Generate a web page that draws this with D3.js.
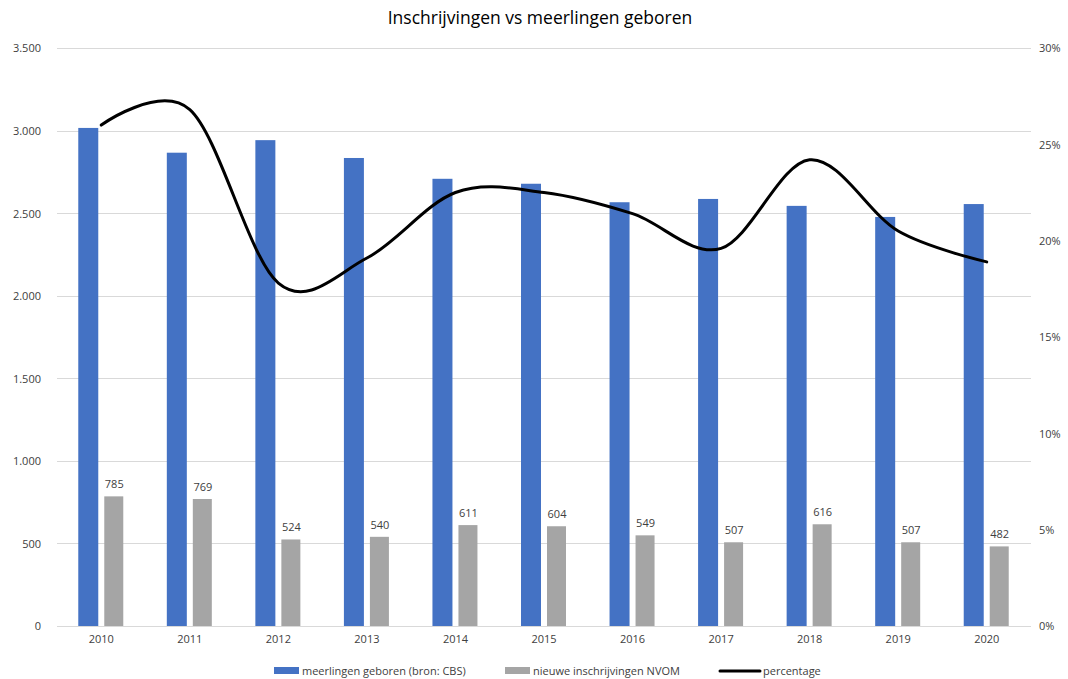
<!DOCTYPE html>
<html>
<head>
<meta charset="utf-8">
<script src="https://cdn.jsdelivr.net/npm/d3@7"></script>
<style>
  body { margin: 0; background: #fff; }
  text { font-family: "Open Sans", "Noto Sans", sans-serif; fill: #404040; }
</style>
</head>
<body>
<div id="chart"></div>
<script>
// chart data
var years = ["2010", "2011", "2012", "2013", "2014", "2015", "2016", "2017", "2018", "2019", "2020"];
var meerlingen = [3016, 2866, 2942, 2834, 2708, 2678, 2566, 2586, 2544, 2477, 2555];
var inschrijvingen = [785, 769, 524, 540, 611, 604, 549, 507, 616, 507, 482];
var percentage = [26.0, 26.8, 17.8, 19.1, 22.5, 22.5, 21.4, 19.6, 24.2, 20.5, 18.9];
var leftTicks = [0, 500, 1000, 1500, 2000, 2500, 3000, 3500];
var rightTicks = [0, 5, 10, 15, 20, 25, 30];

var W = 1068, H = 679,
  margin = { left: 57, right: 37, top: 48, bottom: 53 },
  blue = "#4472c4", grey = "#a5a5a5";

var svg = d3.select("#chart").append("svg")
  .attr("width", W).attr("height", H);

var x = d3.scaleBand()
  .domain(years)
  .range([margin.left, W - margin.right]);

var y = d3.scaleLinear()
  .domain([0, 3500])
  .range([H - margin.bottom, margin.top]);

var y2 = d3.scaleLinear()
  .domain([0, 30])
  .range([H - margin.bottom, margin.top]);

var nf = d3.formatLocale({ decimal: ",", thousands: ".", grouping: [3], currency: ["€", ""] })
  .format(",");

// gridlines
svg.append("g")
  .selectAll("line")
  .data(leftTicks)
  .enter().append("line")
  .attr("x1", margin.left)
  .attr("x2", W - margin.right)
  .attr("y1", function (d) { return Math.round(y(d)) + 0.5; })
  .attr("y2", function (d) { return Math.round(y(d)) + 0.5; })
  .attr("stroke", "#d9d9d9")
  .attr("stroke-width", 1);

// left axis
var leftAxis = svg.append("g")
  .attr("transform", "translate(" + (margin.left - 13) + ",0)")
  .call(d3.axisLeft(y).tickValues(leftTicks).tickSize(0).tickFormat(nf));
leftAxis.select(".domain").remove();
leftAxis.selectAll("text").attr("font-size", 11).attr("dy", "0.35em")
  .style("font-family", "'Open Sans', sans-serif").attr("fill", "#404040");

// right axis
var rightAxis = svg.append("g")
  .attr("transform", "translate(" + (W - margin.right + 5) + ",0)")
  .call(d3.axisRight(y2).tickValues(rightTicks).tickSize(0)
    .tickFormat(function (d) { return d + "%"; }));
rightAxis.select(".domain").remove();
rightAxis.selectAll("text").attr("font-size", 11).attr("dy", "0.35em")
  .style("font-family", "'Open Sans', sans-serif").attr("fill", "#404040");

// category axis
var bottomAxis = svg.append("g")
  .attr("transform", "translate(0," + (H - margin.bottom + 6) + ")")
  .call(d3.axisBottom(x).tickSize(0));
bottomAxis.select(".domain").remove();
bottomAxis.selectAll("text").attr("font-size", 11)
  .style("font-family", "'Open Sans', sans-serif").attr("fill", "#404040");

// bars
var barW = 20, gap = 3;
svg.append("g")
  .selectAll("rect")
  .data(meerlingen)
  .enter().append("rect")
  .attr("x", function (d, i) { return x(years[i]) + x.bandwidth() / 2 - gap - barW; })
  .attr("width", barW)
  .attr("y", function (d) { return y(d); })
  .attr("height", function (d) { return y(0) - y(d); })
  .attr("fill", blue);

svg.append("g")
  .selectAll("rect")
  .data(inschrijvingen)
  .enter().append("rect")
  .attr("x", function (d, i) { return x(years[i]) + x.bandwidth() / 2 + gap; })
  .attr("width", barW - 1)
  .attr("y", function (d) { return y(d); })
  .attr("height", function (d) { return y(0) - y(d); })
  .attr("fill", grey);

// data labels on grey bars
svg.append("g")
  .selectAll("text")
  .data(inschrijvingen)
  .enter().append("text")
  .attr("x", function (d, i) { return x(years[i]) + x.bandwidth() / 2 + gap + barW / 2; })
  .attr("y", function (d) { return y(d) - 8; })
  .attr("text-anchor", "middle")
  .attr("font-size", 11)
  .text(function (d) { return d; });

// smoothed percentage line
var line = d3.line()
  .x(function (d, i) { return x(years[i]) + x.bandwidth() / 2; })
  .y(function (d) { return y2(d); })
  .curve(d3.curveCardinal.tension(0));

svg.append("path")
  .datum(percentage)
  .attr("d", line)
  .attr("fill", "none")
  .attr("stroke", "#000")
  .attr("stroke-width", 3)
  .attr("stroke-linejoin", "round")
  .attr("stroke-linecap", "round");

// title
svg.append("text")
  .attr("x", 540)
  .attr("y", 24)
  .attr("text-anchor", "middle")
  .attr("font-size", 17.5)
  .style("fill", "#000")
  .text("Inschrijvingen vs meerlingen geboren");

// legend
var legend = [
  { label: "meerlingen geboren (bron: CBS)", type: "rect", color: blue, x: 274 },
  { label: "nieuwe inschrijvingen NVOM", type: "rect", color: grey, x: 505 },
  { label: "percentage", type: "line", color: "#000", x: 720 }
];
var lg = svg.append("g").selectAll("g")
  .data(legend)
  .enter().append("g")
  .attr("transform", function (d) { return "translate(" + d.x + ",671)"; });
lg.filter(function (d) { return d.type === "rect"; })
  .append("rect")
  .attr("x", 0).attr("y", -4).attr("width", 25).attr("height", 7)
  .attr("fill", function (d) { return d.color; });
lg.filter(function (d) { return d.type === "line"; })
  .append("line")
  .attr("x1", 0).attr("x2", 40).attr("y1", 0).attr("y2", 0)
  .attr("stroke", "#000").attr("stroke-width", 3).attr("stroke-linecap", "round");
lg.append("text")
  .attr("x", function (d) { return d.type === "line" ? 43 : 28; })
  .attr("y", 0)
  .attr("dy", "0.35em")
  .attr("font-size", 11)
  .text(function (d) { return d.label; });
</script>
</body>
</html>
